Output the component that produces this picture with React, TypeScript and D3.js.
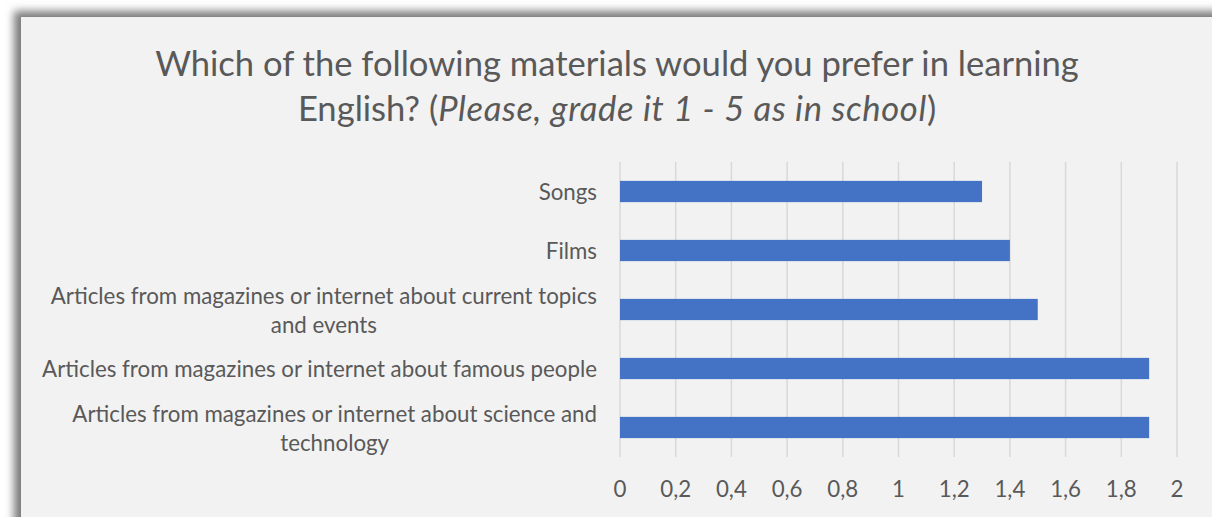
import React, { useEffect, useRef, useState } from "react";
import * as d3 from "d3";

const categories = [
  "Songs",
  "Films",
  "Articles from magazines or internet about current topics|and events",
  "Articles from magazines or internet about famous people",
  "Articles from magazines or internet about science and|technology",
];
const values = [1.3, 1.4, 1.5, 1.9, 1.9];
const ticks = [0, 0.2, 0.4, 0.6, 0.8, 1, 1.2, 1.4, 1.6, 1.8, 2];
const titleLine1 = "Which of the following materials would you prefer in learning";
const titleLine2a = "English? (";
const titleLine2b = "Please, grade it 1 - 5 as in school";
const titleLine2c = ")";

const W = 1212;
const H = 517;
const FONT = "Lato, 'Open Sans', sans-serif";
const TXT = "#595959";
const LABEL_FS = 22.3;

export default function App() {
  const x = d3.scaleLinear().domain([0, 2]).range([620, 1177]);
  const y = d3
    .scaleBand<string>()
    .domain(categories)
    .range([162, 457])
    .paddingInner(0.64)
    .paddingOuter(0.32);
  const fmt = (v: number) => String(v).replace(".", ",");
  const refs = useRef<Record<string, SVGTextElement | null>>({});
  const [widths, setWidths] = useState<Record<string, number>>({});

  useEffect(() => {
    const w: Record<string, number> = {};
    Object.keys(refs.current).forEach((k) => {
      const el = refs.current[k];
      if (el) w[k] = el.getComputedTextLength();
    });
    setWidths(w);
  }, []);

  return (
    <svg
      width={W}
      height={H}
      style={{ position: "absolute", left: 0, top: 0 }}
      fontFamily={FONT}
    >
      <defs>
        <filter id="sh" x="-10%" y="-10%" width="120%" height="120%">
          <feGaussianBlur stdDeviation="4" />
        </filter>
      </defs>
      <rect x={0} y={0} width={W} height={H} fill="#ffffff" />
      <rect x={14} y={11} width={W} height={H} fill="#7a7a7a" filter="url(#sh)" />
      <rect x={21} y={17} width={W} height={H} fill="#f2f2f2" />
      <text x={617} y={76} textAnchor="middle" fontSize={34.6} fill={TXT}>
        {titleLine1}
      </text>
      <text x={617} y={121} textAnchor="middle" fontSize={34.6} fill={TXT}>
        {titleLine2a}
        <tspan fontStyle="italic" letterSpacing={0.65}>
          {titleLine2b}
        </tspan>
        {titleLine2c}
      </text>
      {ticks.map((t) => (
        <g key={t}>
          <line
            x1={x(t)}
            x2={x(t)}
            y1={162}
            y2={457}
            stroke="#d9d9d9"
            strokeWidth={1.5}
          />
          <text
            x={x(t)}
            y={497}
            textAnchor="middle"
            fontSize={LABEL_FS}
            fill={TXT}
          >
            {fmt(t)}
          </text>
        </g>
      ))}
      {categories.map((c, i) => {
        const yy = y(c)!;
        const bw = y.bandwidth();
        return (
          <rect
            key={c}
            x={x(0)}
            y={yy}
            width={x(values[i]) - x(0)}
            height={bw}
            fill="#4472c4"
          />
        );
      })}
      {categories.map((c) => {
        const lines = c.split("|");
        const cy = y(c)! + y.bandwidth() / 2;
        if (lines.length === 1) {
          return (
            <text
              key={c}
              x={597}
              y={cy + 8}
              textAnchor="end"
              fontSize={LABEL_FS}
              fill={TXT}
            >
              {lines[0]}
            </text>
          );
        }
        const w1 = widths[c] ?? 0;
        return (
          <g key={c}>
            <text
              ref={(el) => {
                refs.current[c] = el;
              }}
              x={597}
              y={cy - 6}
              textAnchor="end"
              fontSize={LABEL_FS}
              fill={TXT}
            >
              {lines[0]}
            </text>
            <text
              x={597 - w1 / 2}
              y={cy + 23}
              textAnchor="middle"
              fontSize={LABEL_FS}
              fill={TXT}
            >
              {lines[1]}
            </text>
          </g>
        );
      })}
    </svg>
  );
}
